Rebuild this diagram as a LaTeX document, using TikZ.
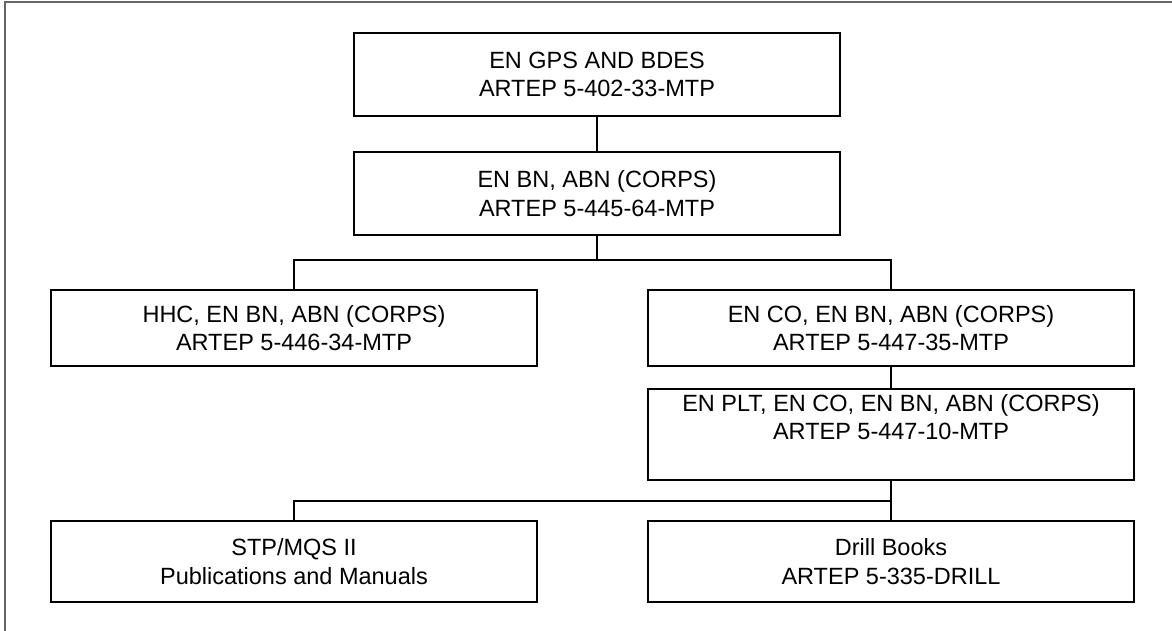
\documentclass[tikz,border=0pt]{standalone}
\usepackage{fontspec}
\setmainfont{Liberation Sans}
\begin{document}
\begin{tikzpicture}[x=1pt,y=-1pt,
  unitbox/.style={draw=black, line width=1.7pt, inner sep=0pt, align=center,
    minimum width=486pt, font=\fontsize{23.5}{28.3}\selectfont},
  lbl/.style={inner sep=0pt, align=center, font=\fontsize{23.5}{28.3}\selectfont},
  link/.style={draw=black, line width=1.7pt, line join=miter},
  frameline/.style={draw=gray!80!black, line width=1.3pt}]
\useasboundingbox (0,0) rectangle (1172,631);
% outer frame (top and left edges)
\draw[frameline] (5,631) -- (5,2) -- (1172,2);

% boxes
\node[unitbox, minimum height=83pt] (gps) at (597,74.5)
  {EN GPS AND BDES\\ARTEP 5-402-33-MTP};
\node[unitbox, minimum height=83pt] (bn) at (597,193.5)
  {EN BN, ABN (CORPS)\\ARTEP 5-445-64-MTP};
\node[unitbox, minimum height=76pt] (hhc) at (294,328)
  {HHC, EN BN, ABN (CORPS)\\ARTEP 5-446-34-MTP};
\node[unitbox, minimum height=76pt] (co) at (891,328)
  {EN CO, EN BN, ABN (CORPS)\\ARTEP 5-447-35-MTP};
\node[unitbox, minimum height=91pt] (plt) at (891,434.5) {};
\node[lbl] (pltt) at (891,417)
  {EN PLT, EN CO, EN BN, ABN (CORPS)\\ARTEP 5-447-10-MTP};
\node[unitbox, minimum height=81pt] (stp) at (294,561.5)
  {STP/MQS II\\Publications and Manuals};
\node[unitbox, minimum height=81pt] (drill) at (891,561.5)
  {Drill Books\\ARTEP 5-335-DRILL};

% connectors
\coordinate (bar1) at (597,260);
\coordinate (bar2) at (891,501);
\draw[link] (gps.south) -- (bn.north);
\draw[link] (bn.south) -- (bar1);
\draw[link] (hhc.north) |- (bar1) -| (co.north);
\draw[link] (co.south) -- (plt.north);
\draw[link] (plt.south) -- (drill.north);
\draw[link] (stp.north) |- (bar2);
\end{tikzpicture}
\end{document}
